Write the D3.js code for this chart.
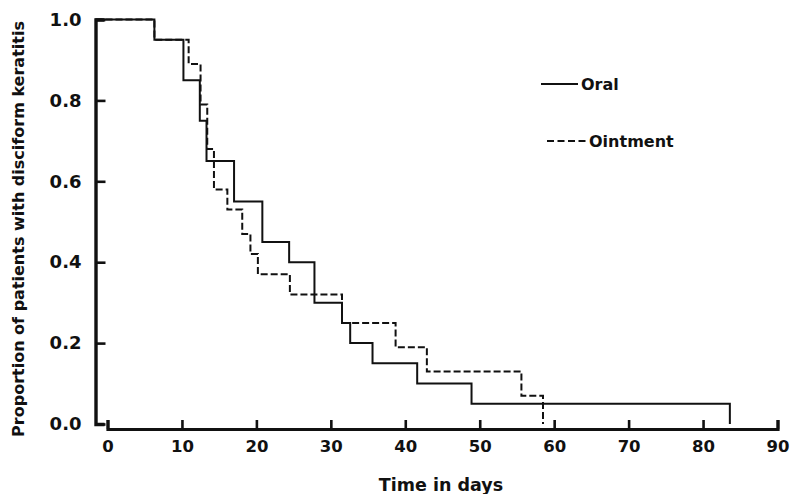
<!DOCTYPE html>
<html>
<head>
<meta charset="utf-8">
<script src="https://cdn.jsdelivr.net/npm/d3@7"></script>
<style>
  body { margin: 0; background: #fff; }
  svg text { font-family: "DejaVu Sans", sans-serif; font-weight: bold; fill: #111; }
</style>
</head>
<body>
<div id="container"></div>
<script>
/* DATA */
const oralDays = [0, 6.3, 10.2, 12.4, 13.3, 17.0, 20.8, 24.4, 27.8, 31.5, 32.6, 35.6, 41.6, 48.9, 83.6];
const oralProp = [1, 0.95, 0.85, 0.75, 0.65, 0.55, 0.45, 0.40, 0.30, 0.25, 0.20, 0.15, 0.10, 0.05, 0];
const ointDays = [0, 6.3, 10.9, 12.5, 13.4, 14.3, 16.1, 18.1, 19.2, 20.2, 24.5, 31.5, 38.7, 42.9, 55.6, 58.5];
const ointProp = [1, 0.95, 0.89, 0.79, 0.68, 0.58, 0.53, 0.47, 0.42, 0.37, 0.32, 0.25, 0.19, 0.13, 0.07, 0];
const xTicks = [0, 10, 20, 30, 40, 50, 60, 70, 80, 90];
const yTicks = [0, 0.2, 0.4, 0.6, 0.8, 1.0];
const seriesNames = ["Oral", "Ointment"];

/* CONSTANTS */
const width = 792, height = 494;
const axisX = 95.5;      // detached y axis
const axisY = 429;       // detached x axis
const ink = "#111";

const svg = d3.select("#container").append("svg")
  .attr("width", width).attr("height", height);

/* SCALES */
const x = d3.scaleLinear().domain([0, 90]).range([107.5, 777.5]);
const y = d3.scaleLinear().domain([0, 1]).range([424, 19.5]);

/* AXES */
const yAxis = d3.axisLeft(y)
  .tickValues(yTicks)
  .tickFormat(d3.format(".1f"))
  .tickSizeInner(-10).tickSizeOuter(-9).tickPadding(14);

const gy = svg.append("g").attr("transform", `translate(${axisX},0)`).call(yAxis);
gy.select(".domain").attr("stroke", ink).attr("stroke-width", 3.4);
gy.selectAll(".tick line").attr("stroke", ink).attr("stroke-width", 2.6);
gy.selectAll(".tick text").attr("font-size", 18).attr("font-family", null).attr("fill", ink);

const xAxis = d3.axisBottom(x)
  .tickValues(xTicks)
  .tickSizeInner(-9).tickSizeOuter(-9).tickPadding(11);

const gx = svg.append("g").attr("transform", `translate(0,${axisY})`).call(xAxis);
gx.select(".domain").attr("stroke", ink).attr("stroke-width", 3.2);
gx.selectAll(".tick line").attr("stroke", ink).attr("stroke-width", 2.6);
gx.selectAll(".tick text").attr("font-size", 16.5).attr("font-family", null).attr("fill", ink);

/* TITLES */
svg.append("text")
  .attr("transform", "translate(24,229) rotate(-90)")
  .attr("text-anchor", "middle")
  .attr("font-size", 16)
  .text("Proportion of patients with disciform keratitis");

svg.append("text")
  .attr("x", 441).attr("y", 491)
  .attr("text-anchor", "middle")
  .attr("font-size", 17.5)
  .text("Time in days");

/* CURVES */
const series = [
  { name: seriesNames[0], pts: oralDays.map((t, i) => ({ t, p: oralProp[i] })), dash: null },
  { name: seriesNames[1], pts: ointDays.map((t, i) => ({ t, p: ointProp[i] })), dash: "7,3" }
];

const line = d3.line()
  .x((d, i) => i === 0 ? axisX : x(d.t))
  .y(d => y(d.p))
  .curve(d3.curveStepAfter);

svg.selectAll("path.km")
  .data(series)
  .join("path")
  .attr("class", "km")
  .attr("d", d => line(d.pts))
  .attr("fill", "none")
  .attr("stroke", ink)
  .attr("stroke-width", 2)
  .attr("stroke-dasharray", d => d.dash);

/* LEGEND */
const legend = svg.selectAll("g.legend")
  .data(series)
  .join("g")
  .attr("class", "legend")
  .attr("transform", (d, i) => i === 0 ? "translate(541,84)" : "translate(547,141)");

legend.append("line")
  .attr("x1", 0).attr("x2", (d, i) => i === 0 ? 37 : 38.5)
  .attr("stroke", ink).attr("stroke-width", 2)
  .attr("stroke-dasharray", (d, i) => i === 0 ? null : "7,3.5");

legend.append("text")
  .attr("x", (d, i) => i === 0 ? 40 : 42)
  .attr("dy", "0.36em")
  .attr("font-size", 16)
  .text(d => d.name);
</script>
</body>
</html>
